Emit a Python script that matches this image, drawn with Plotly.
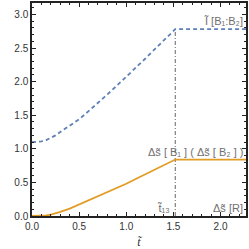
import plotly.graph_objects as go

t_blue = [0.0, 0.05, 0.1, 0.15, 0.2, 0.25, 0.3, 0.4, 0.5, 0.6, 0.7, 0.8, 0.9, 1.0, 1.1, 1.2, 1.3, 1.4, 1.52, 2.27]
i_blue = [1.10, 1.102, 1.11, 1.13, 1.16, 1.20, 1.25, 1.34, 1.44, 1.56, 1.68, 1.81, 1.94, 2.07, 2.21, 2.34, 2.48, 2.62, 2.78, 2.78]

t_orange = [0.0, 0.1, 0.15, 0.2, 0.25, 0.3, 0.4, 0.5, 0.6, 0.7, 0.8, 0.9, 1.0, 1.1, 1.2, 1.3, 1.4, 1.52, 2.27]
s_orange = [0.0, 0.0, 0.008, 0.02, 0.038, 0.06, 0.11, 0.17, 0.23, 0.29, 0.36, 0.42, 0.48, 0.55, 0.62, 0.69, 0.76, 0.84, 0.84]

t13 = 1.52
vline_t = [t13, t13]
vline_y = [0.0, 2.78]

x_ticks = [0.0, 0.5, 1.0, 1.5, 2.0]
y_ticks = [0.0, 0.5, 1.0, 1.5, 2.0, 2.5, 3.0]

fig = go.Figure()
fig.add_trace(go.Scatter(x=vline_t, y=vline_y, mode="lines",
                         line=dict(color="#7f7f7f", width=1.2, dash="4px,2px,1px,2px"),
                         showlegend=False, hoverinfo="skip"))
fig.add_trace(go.Scatter(x=t_blue, y=i_blue, mode="lines",
                         line=dict(color="#5e81b5", width=1.8, dash="4px,3px"),
                         showlegend=False))
fig.add_trace(go.Scatter(x=t_orange, y=s_orange, mode="lines",
                         line=dict(color="#e19c24", width=1.8),
                         showlegend=False))

lab_font = dict(family="Liberation Sans, Arial, sans-serif", size=11, color="#707070")
ann = [
    dict(x=2.26, y=2.78, text="Ĩ [B₁:B₂]", xanchor="right", yanchor="bottom"),
    dict(x=2.26, y=0.84, text="Δs̃ [ B₁ ] ( Δs̃ [ B₂ ] )", xanchor="right", yanchor="bottom"),
    dict(x=1.48, y=0.0, text="t̃₁₃", xanchor="right", yanchor="bottom"),
    dict(x=2.26, y=0.0, text="Δs̃ [R]", xanchor="right", yanchor="bottom"),
]
for a in ann:
    a.update(xref="x", yref="y", showarrow=False, font=lab_font)

axis_common = dict(showgrid=False, zeroline=False, showline=True, linecolor="#222222",
                   linewidth=1.5, mirror="ticks", ticks="inside", ticklen=4, tickwidth=1,
                   tickcolor="#222222",
                   tickfont=dict(family="Liberation Sans, Arial, sans-serif", size=10, color="#333333"))

fig.update_layout(
    width=249, height=249,
    margin=dict(l=32, r=3, t=1, b=33),
    plot_bgcolor="white", paper_bgcolor="white",
    annotations=ann,
    xaxis=dict(range=[0, 2.27], tickvals=x_ticks, ticktext=[f"{v:.1f}" for v in x_ticks],
               minor=dict(dtick=0.1, ticks="inside", ticklen=2, tickcolor="#222222", showgrid=False),
               title=dict(text="<i>t̃</i>", font=dict(family="Liberation Serif, serif", size=12, color="#333333"),
                          standoff=8),
               **axis_common),
    yaxis=dict(range=[0, 3.17], tickvals=y_ticks, ticktext=[f"{v:.1f}" for v in y_ticks],
               minor=dict(dtick=0.1, ticks="inside", ticklen=2, tickcolor="#222222", showgrid=False),
               **axis_common),
)
fig.write_html("out.html", config={"displayModeBar": False},
               post_script="document.body.style.margin='0';document.body.style.overflow='hidden';")
